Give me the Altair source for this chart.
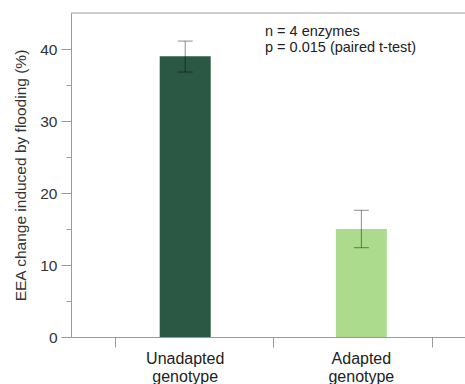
import altair as alt
import pandas as pd

categories = ["Unadapted\ngenotype", "Adapted\ngenotype"]
positions = [1, 2]
values = [39.0, 15.0]
err_low = [36.8, 12.4]
err_high = [41.1, 17.6]
colors = ["#2b5844", "#addb8d"]
x_ticks = [0.6, 1.5, 2.4]
y_ticks = [0, 5, 10, 15, 20, 25, 30, 35, 40]
annotation_lines = ["n = 4 enzymes", "p = 0.015 (paired t-test)"]
annotation_y = [41.75, 39.65]
annotation_x = [1.453, 1.453]
y_title = "EEA change induced by flooding (%)"

df = pd.DataFrame({
    "cat": categories,
    "pos": positions,
    "val": values,
    "lo": err_low,
    "hi": err_high,
    "color": colors,
})

FONT = "Liberation Sans"
x_scale = alt.Scale(domain=[0.38, 2.56], nice=False, zero=False)
y_scale = alt.Scale(domain=[0, 45], nice=False)

x_axis = alt.Axis(values=x_ticks, labels=False, title=None, tickSize=10,
                  domainColor="#9a9a9a", tickColor="#9a9a9a", grid=False)
y_axis = alt.Axis(values=y_ticks, title=y_title,
                  labelExpr="datum.value % 10 === 0 ? datum.label : ''",
                  tickSize={"condition": {"test": "datum.value % 10 === 0", "value": 10}, "value": 5},
                  labelPadding=4, labelFontSize=15.5, labelFont=FONT, labelColor="#333333",
                  titleFontSize=15.5, titleFont=FONT, titleFontWeight="normal", titleColor="#333333",
                  titlePadding=11,
                  domainColor="#9a9a9a", tickColor="#9a9a9a", grid=False)

base = alt.Chart(df)

bars = base.mark_bar(size=51).encode(
    x=alt.X("pos:Q", scale=x_scale, axis=x_axis),
    y=alt.Y("val:Q", scale=y_scale, axis=y_axis),
    color=alt.Color("color:N", scale=None),
)

err = base.mark_rule(color="black", opacity=0.45, strokeWidth=1).encode(
    x="pos:Q", y="lo:Q", y2="hi:Q"
)
cap_lo = base.mark_tick(orient="horizontal", size=15, thickness=1, color="black", opacity=0.45).encode(
    x="pos:Q", y="lo:Q"
)
cap_hi = base.mark_tick(orient="horizontal", size=15, thickness=1, color="black", opacity=0.45).encode(
    x="pos:Q", y="hi:Q"
)

labels = base.mark_text(baseline="alphabetic", align="center", dy=27, fontSize=16,
                        font=FONT, color="#222222", lineBreak="\n", lineHeight=18).encode(
    x="pos:Q", y=alt.datum(0), text="cat:N"
)

top = alt.Chart(pd.DataFrame({"y": [45]})).mark_rule(color="#9a9a9a", strokeWidth=1).encode(
    y=alt.Y("y:Q")
)

ann = alt.Chart(pd.DataFrame({"t": annotation_lines, "x": annotation_x, "y": annotation_y})).mark_text(
    align="left", baseline="alphabetic", fontSize=14.5, font=FONT, color="#222222"
).encode(x="x:Q", y="y:Q", text="t:N")

chart = alt.layer(bars, err, cap_lo, cap_hi, labels, top, ann).properties(
    width=394, height=324,
    autosize=alt.AutoSizeParams(type="none"),
    padding={"left": 71, "top": 13, "right": 0, "bottom": 47},
).configure_view(stroke=None).configure_axis(domainWidth=1, tickWidth=1)

chart.save("out.html", embed_options={"renderer": "svg", "actions": False})
